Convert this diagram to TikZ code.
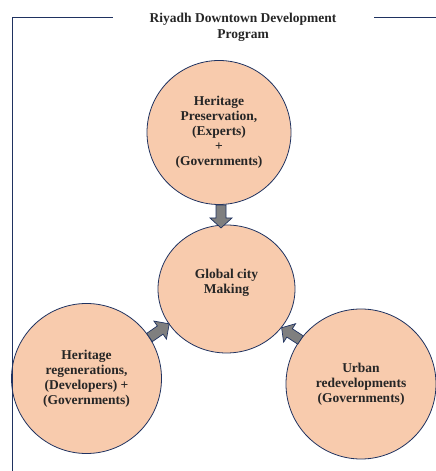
\documentclass[tikz,border=0pt]{standalone}
\usepackage{fontspec}
\setmainfont{Liberation Serif}
\usetikzlibrary{shapes.geometric}
\definecolor{peach}{HTML}{F8CBAD}
\definecolor{navy}{HTML}{1F3260}
\definecolor{arrowgray}{HTML}{7F7F7F}
\definecolor{txt}{HTML}{262626}
\tikzset{
  bubble/.style={circle, draw=navy, line width=0.8pt, fill=peach, inner sep=0pt,
    text=txt, align=center, font=\fontsize{13.5}{15}\selectfont\bfseries},
  bubtext/.style={text=txt, align=center, font=\fontsize{13.5}{15}\selectfont\bfseries, inner sep=0pt},
  blockarrow/.style={draw=navy, line width=0.7pt, fill=arrowgray, line join=miter},
  frameline/.style={draw=navy, line width=0.9pt},
  pics/fatarrow/.style={code={
    \draw[blockarrow] (0,-5) -- (13,-5) -- (13,-11) -- (#1,0) -- (13,11) -- (13,5) -- (0,5) -- cycle;}}
}
\begin{document}
\begin{tikzpicture}[x=1pt,y=1pt]
\useasboundingbox (0,0) rectangle (436,471);
% circles
\node[bubble, minimum size=144pt] (top) at (219,338.5)
  {Heritage\\Preservation,\\(Experts)\\+\\(Governments)};
\node[ellipse, draw=navy, line width=0.8pt, fill=peach, minimum width=137pt, minimum height=128pt, inner sep=0pt] (mid) at (226.5,182) {};
\node[bubtext] (midtext) at (226.5,188) {Global city\\Making};
\node[bubble, minimum size=150pt] (bl) at (86.5,92.5)
  {Heritage\\regenerations,\\(Developers) +\\(Governments)};
\node[bubble, minimum size=150pt] (br) at (361,87)
  {Urban\\redevelopments\\(Governments)};
% block arrows
\coordinate (a1) at (221,266);
\coordinate (a2) at (149.5,133.5);
\coordinate (a3) at (300.5,131);
\pic[rotate=-90] at (a1) {fatarrow=23};
\pic[rotate=34.7] at (a2) {fatarrow=24};
\pic[rotate=147] at (a3) {fatarrow=22.5};
% frame
\coordinate (f1) at (12,0);
\coordinate (f2) at (12,454);
\coordinate (f3) at (113,454);
\coordinate (f4) at (374,454);
\coordinate (f5) at (436,454);
\draw[frameline] (f1) -- (f2) -- (f3);
\draw[frameline] (f4) -- (f5);
\node[bubtext, font=\fontsize{13.5}{16}\selectfont\bfseries] (title) at (243,444)
  {Riyadh Downtown Development\\Program};
\end{tikzpicture}
\end{document}
